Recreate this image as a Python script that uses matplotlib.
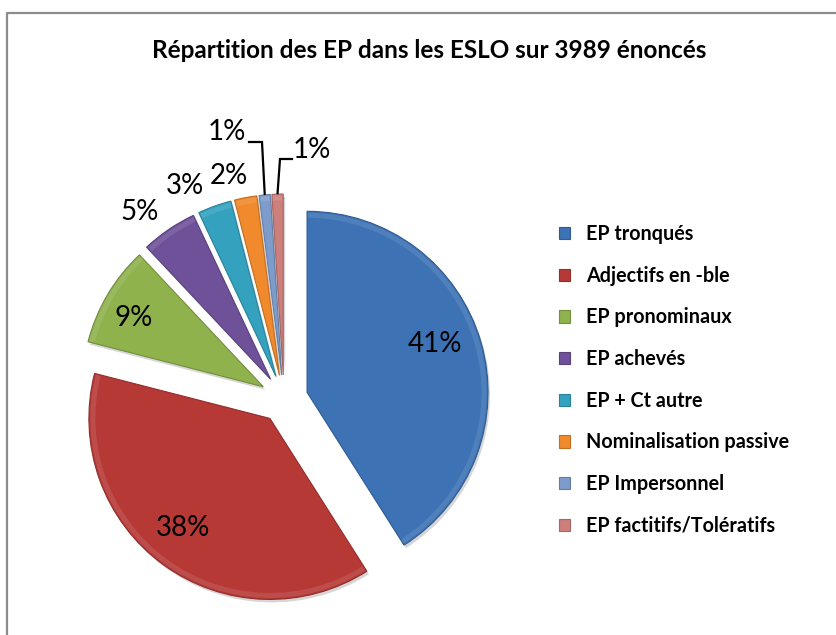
import numpy as np
import matplotlib

matplotlib.use("Agg")
import matplotlib.pyplot as plt
from matplotlib.patches import Wedge
from matplotlib import colors as mcolors

plt.rcParams["font.family"] = ["Lato", "DejaVu Sans"]

# data
categories = [
    "EP tronqués",
    "Adjectifs en -ble",
    "EP pronominaux",
    "EP achevés",
    "EP + Ct autre",
    "Nominalisation passive",
    "EP Impersonnel",
    "EP factitifs/Tolératifs",
]
shares = [41, 38, 9, 5, 3, 2, 1, 1]
title = "Répartition des EP dans les ESLO sur 3989 énoncés"

# styling
slice_colors = ["#3d72b4", "#b63936", "#8fb24d", "#6f519a", "#34a2bf", "#f08a2c", "#7e9ccb", "#cd7f7c"]
W, H = 837, 635
center = (284, H - 399)
radius = 181
offset = 24  # explode distance in pixels
# percent label centres, in picture pixels (x right, y down)
label_pos = [(435, 344), (183, 528), (134, 318), (140, 212), (185, 186), (229, 176), (227, 132), (312, 150)]
# leader lines: slice index -> (line start x, elbow x, elbow y)
leaders = {6: (249, 262, 142), 7: (292, 280, 159)}


def darker(color, f=0.7):
    r, g, b = mcolors.to_rgb(color)
    return (r * f, g * f, b * f)


fig = plt.figure(figsize=(W / 100, H / 100), dpi=100)
ax = fig.add_axes([0, 0, 1, 1])

wedges, _ = ax.pie(
    shares,
    colors=slice_colors,
    startangle=90,
    counterclock=False,
    explode=[offset] * len(shares),
    radius=radius,
    center=center,
    wedgeprops=dict(linewidth=0.8),
    frame=True,
)
ax.set_xlim(0, W)
ax.set_ylim(0, H)
ax.set_aspect("equal")
ax.axis("off")

# chart border (only left and top are visible in the crop)
ax.plot([7.5, 7.5, W + 5], [-5, H - 12.5, H - 12.5], color="#8c8c8c", lw=1.6, zorder=0)

for w, c in zip(wedges, slice_colors):
    w.set_edgecolor(darker(c, 0.8))
    w.set_zorder(3)
    # soft shadow
    sh = Wedge((w.center[0] + 2, w.center[1] - 3), w.r, w.theta1, w.theta2,
               facecolor="black", alpha=0.16, lw=0, zorder=2)
    ax.add_patch(sh)
    # faint rim to hint at the bevel
    hl = Wedge(w.center, w.r - 1.5, w.theta1 + 0.3, w.theta2 - 0.3, width=5,
               facecolor="white", alpha=0.10, lw=0, zorder=4)
    ax.add_patch(hl)

for i, (w, s) in enumerate(zip(wedges, shares)):
    lx, ly = label_pos[i]
    ax.text(lx, H - ly, f"{s}%", fontsize=20, ha="center", va="center", zorder=5)
    if i in leaders:
        mid = np.deg2rad((w.theta1 + w.theta2) / 2)
        ox = w.center[0] + radius * np.cos(mid)
        oy = w.center[1] + radius * np.sin(mid)
        sx, ex, ey = leaders[i]
        ax.plot([sx, ex, ox], [H - ey, H - ey, oy + 1], color="black", lw=1.6, zorder=5,
                solid_joinstyle="miter")

ax.text(429, H - 50, title, fontsize=17.5, fontweight="bold", ha="center", va="center")

ax.legend(
    wedges,
    categories,
    loc="upper left",
    bbox_to_anchor=(559 / W, 1 - 224 / H),
    frameon=False,
    prop=dict(weight="bold", size=14.2),
    handlelength=0.58,
    handleheight=0.58,
    handletextpad=0.8,
    labelspacing=1.1,
    borderpad=0,
    borderaxespad=0,
)

fig.savefig("out.png", dpi=100)
